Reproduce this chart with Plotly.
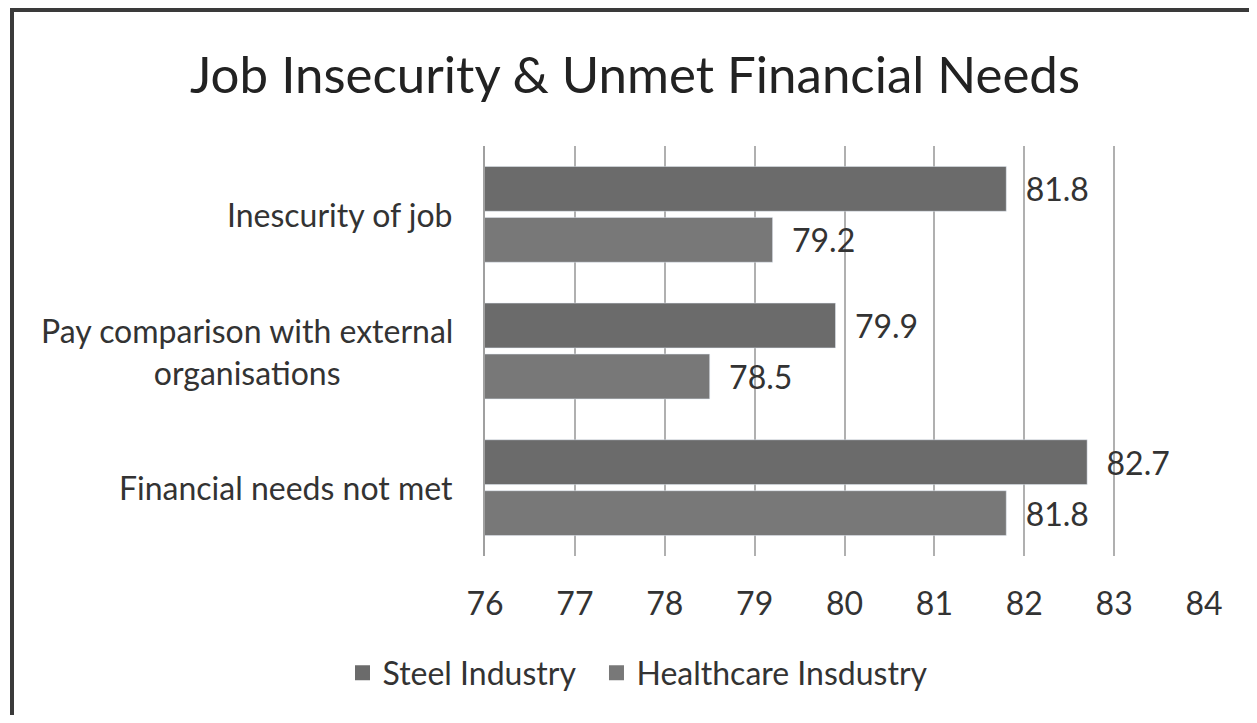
import plotly.graph_objects as go

categories = ["Inescurity of job", "Pay comparison with external<br>organisations", "Financial needs not met"]
steel = [81.8, 79.9, 82.7]
healthcare = [79.2, 78.5, 81.8]
series_names = ["Steel Industry", "Healthcare Insdustry"]
series_colors = ["#6b6b6b", "#787878"]
x_ticks = [76, 77, 78, 79, 80, 81, 82, 83, 84]

FONT = "Lato"
FS = 32
TXT = "#333333"
cat_keys = ["c0", "c1", "c2"]

# page has an 8px body margin, so work in figure coordinates = page - 8
W, H = 1241, 707
L, R, T, B = 477, 45, 138, 159
pw, ph = W - L - R, H - T - B


def px(x):
    return (x - L) / pw


def py(y):
    return (H - B - y) / ph


fig = go.Figure()
for name, vals, col in zip(series_names, [steel, healthcare], series_colors):
    fig.add_trace(go.Bar(
        y=cat_keys, x=vals, orientation="h", name=name, showlegend=False,
        marker=dict(color=col),
        text=[f"{v:.1f}" for v in vals], texttemplate="\u00a0\u00a0%{text}",
        textposition="outside", cliponaxis=False,
        textfont=dict(family=FONT, size=FS, color=TXT),
    ))
# legend proxies with larger square swatches
legend_labels = [series_names[0] + "\u00a0\u00a0", series_names[1]]
for name, col in zip(legend_labels, series_colors):
    fig.add_trace(go.Scatter(
        x=[None], y=[None], mode="markers", name=name,
        marker=dict(symbol="square", size=15, color=col),
    ))

for key, label in zip(cat_keys, categories):
    fig.add_annotation(
        x=-30 / pw, xref="paper", y=key, yref="y", text=label,
        xanchor="right", yanchor="middle", align="center", showarrow=False,
        font=dict(family=FONT, size=FS, color=TXT),
    )

border = dict(color="#3a3a3a", width=4)
fig.add_shape(type="line", xref="paper", yref="paper",
              x0=px(2), x1=px(1300), y0=py(2), y1=py(2), line=border, layer="below")
fig.add_shape(type="line", xref="paper", yref="paper",
              x0=px(4), x1=px(4), y0=py(0), y1=py(760), line=border, layer="below")

fig.update_layout(
    width=W, height=H,
    margin=dict(l=L, r=R, t=T, b=B),
    paper_bgcolor="white", plot_bgcolor="white",
    barmode="group", bargap=0.254, bargroupgap=0.12,
    font=dict(family=FONT, size=FS, color=TXT),
    title=dict(text="Job Insecurity & Unmet Financial Needs",
               x=627 / W, xref="container", xanchor="center",
               y=(H - 67) / H, yref="container", yanchor="middle",
               font=dict(family=FONT, size=51, color="#222222")),
    legend=dict(orientation="h", xref="container", yref="container",
                x=630 / W, xanchor="center", y=(H - 665) / H, yanchor="middle",
                font=dict(family=FONT, size=FS, color=TXT),
                itemwidth=30, tracegroupgap=0),
    xaxis=dict(range=[76, 84], tickvals=x_ticks, showgrid=True,
               gridcolor="#b0b0b0", gridwidth=2, zeroline=False,
               showline=False, ticks="", ticklabelstandoff=26,
               tickfont=dict(family=FONT, size=FS, color=TXT)),
    yaxis=dict(autorange="reversed", showticklabels=False, showgrid=False,
               showline=True, linecolor="#a0a0a0", linewidth=2, ticks="",
               zeroline=False),
)

fig.write_html("out.html")
